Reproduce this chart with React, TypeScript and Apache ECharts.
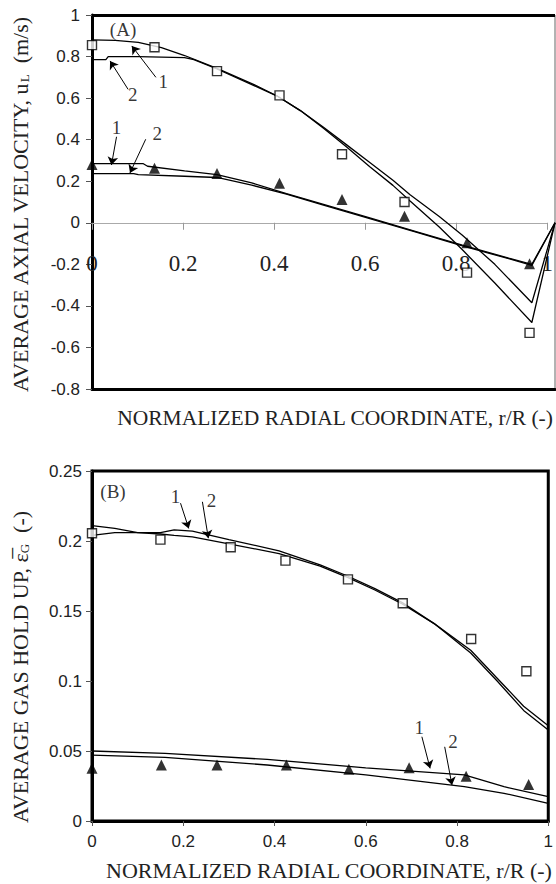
import React, { useEffect, useRef } from "react";
import * as echarts from "echarts";

// ---------- Panel (A): average axial velocity ----------
const xRangeA = [0, 1];
const yRangeA = [-0.8, 1];
const xExpA = [0, 0.135, 0.27, 0.405, 0.54, 0.675, 0.81, 0.945];
const uHighExp = [0.855, 0.845, 0.73, 0.613, 0.33, 0.1, -0.24, -0.53];
const uLowExp = [0.28, 0.262, 0.237, 0.19, 0.112, 0.032, -0.096, -0.197];

const xHigh1 = [0, 0.05, 0.1, 0.15, 0.2, 0.27, 0.35, 0.4, 0.45, 0.5, 0.55, 0.6, 0.65, 0.687, 0.75, 0.8, 0.87, 0.95, 1];
const uHigh1 = [0.88, 0.878, 0.868, 0.843, 0.805, 0.743, 0.665, 0.61, 0.54, 0.455, 0.365, 0.27, 0.18, 0.105, -0.02, -0.13, -0.29, -0.48, 0];
const xHigh2 = [0, 0.03, 0.035, 0.1, 0.2, 0.22, 0.27, 0.35, 0.4, 0.45, 0.5, 0.55, 0.6, 0.65, 0.687, 0.75, 0.8, 0.87, 0.95, 1];
const uHigh2 = [0.785, 0.785, 0.8, 0.8, 0.795, 0.785, 0.74, 0.66, 0.61, 0.54, 0.46, 0.375, 0.29, 0.205, 0.135, 0.03, -0.06, -0.2, -0.385, 0];

const xLow1 = [0, 0.11, 0.12, 0.2, 0.27, 0.345, 0.42, 0.5, 0.6, 0.7, 0.8, 0.9, 0.95, 1];
const uLow1 = [0.285, 0.285, 0.272, 0.25, 0.232, 0.192, 0.14, 0.088, 0.023, -0.042, -0.108, -0.17, -0.2, 0];
const xLow2 = [0, 0.09, 0.1, 0.2, 0.27, 0.345, 0.42, 0.5, 0.6, 0.7, 0.8, 0.9, 0.95, 1];
const uLow2 = [0.237, 0.237, 0.232, 0.224, 0.218, 0.181, 0.138, 0.085, 0.02, -0.045, -0.111, -0.173, -0.205, 0];

// annotation labels and arrows (data coordinates)
const labelsA = [
  { name: "(A)", x: 0.067, y: 0.928 },
  { name: "1", x: 0.154, y: 0.679 },
  { name: "2", x: 0.088, y: 0.618 },
  { name: "1", x: 0.053, y: 0.458 },
  { name: "2", x: 0.141, y: 0.431 },
];
const arrowsA = [
  [0.138, 0.7, 0.086, 0.851],
  [0.078, 0.642, 0.039, 0.779],
  [0.053, 0.414, 0.042, 0.278],
  [0.116, 0.402, 0.082, 0.24],
];

// ---------- Panel (B): average gas hold up ----------
const xSqB = [0, 0.15, 0.304, 0.424, 0.561, 0.681, 0.831, 0.952];
const egHighExp = [0.2055, 0.201, 0.1955, 0.186, 0.1726, 0.1555, 0.13, 0.107];
const xTriB = [0, 0.152, 0.274, 0.426, 0.563, 0.695, 0.82, 0.957];
const egLowExp = [0.0376, 0.04, 0.04, 0.04, 0.037, 0.038, 0.032, 0.026];

const xHighB = [0, 0.05, 0.1, 0.15, 0.18, 0.22, 0.3, 0.41, 0.5, 0.56, 0.62, 0.68, 0.75, 0.83, 0.888, 0.946, 1];
const egHigh1 = [0.211, 0.209, 0.206, 0.206, 0.208, 0.207, 0.201, 0.193, 0.183, 0.175, 0.166, 0.156, 0.141, 0.122, 0.102, 0.082, 0.068];
const egHigh2 = [0.204, 0.206, 0.206, 0.205, 0.204, 0.203, 0.198, 0.191, 0.182, 0.174, 0.165, 0.155, 0.141, 0.12, 0.1, 0.079, 0.065];

const xLowB = [0, 0.16, 0.384, 0.6, 0.816, 0.903, 1];
const egLow1 = [0.05, 0.0483, 0.044, 0.038, 0.033, 0.0245, 0.0174];
const egLow2 = [0.047, 0.0455, 0.04, 0.033, 0.0245, 0.0198, 0.0126];

const labelsB = [
  { name: "(B)", x: 0.046, y: 0.2352 },
  { name: "1", x: 0.183, y: 0.232 },
  { name: "2", x: 0.262, y: 0.229 },
  { name: "1", x: 0.717, y: 0.0669 },
  { name: "2", x: 0.791, y: 0.0566 },
];
const arrowsB = [
  [0.194, 0.227, 0.212, 0.209],
  [0.242, 0.228, 0.255, 0.202],
  [0.723, 0.0602, 0.741, 0.0376],
  [0.773, 0.053, 0.789, 0.0257],
];

const SERIF = "'Liberation Serif', 'Times New Roman', serif";
const SANS = "'Liberation Sans', Arial, sans-serif";

const zip = (xs: number[], ys: number[]) => xs.map((x, i) => [x, ys[i]]);

function modelLine(xs: number[], ys: number[], xi: number, yi: number) {
  return {
    type: "line",
    xAxisIndex: xi,
    yAxisIndex: yi,
    data: zip(xs, ys),
    showSymbol: false,
    symbol: "none",
    lineStyle: { color: "#000", width: 1.3 },
    silent: true,
    z: 2,
  };
}

function expSeries(xs: number[], ys: number[], xi: number, yi: number, square: boolean) {
  return {
    type: "scatter",
    xAxisIndex: xi,
    yAxisIndex: yi,
    data: zip(xs, ys),
    symbol: square ? "rect" : "triangle",
    symbolSize: square ? 9 : 11,
    itemStyle: square
      ? { color: "#fff", borderColor: "#000", borderWidth: 1.4 }
      : { color: "#000" },
    silent: true,
    z: 3,
  };
}

function annotations(labels: { name: string; x: number; y: number }[], arrows: number[][], xi: number, yi: number) {
  return {
    type: "scatter",
    xAxisIndex: xi,
    yAxisIndex: yi,
    data: labels.map((l) => ({ name: l.name, value: [l.x, l.y] })),
    symbol: "circle",
    symbolSize: 1,
    itemStyle: { color: "transparent" },
    label: {
      show: true,
      position: "inside",
      formatter: "{b}",
      fontFamily: SERIF,
      fontSize: 19,
      color: "#000",
    },
    silent: true,
    z: 4,
    markLine: {
      silent: true,
      symbol: ["none", "arrow"],
      symbolSize: 8,
      label: { show: false },
      lineStyle: { color: "#000", width: 1, type: "solid" },
      data: arrows.map((a) => [{ coord: [a[0], a[1]] }, { coord: [a[2], a[3]] }]),
    },
  };
}

// thick top frame line of panel A
function frameTopA() {
  return {
    type: "line",
    xAxisIndex: 0,
    yAxisIndex: 0,
    data: [],
    silent: true,
    markLine: {
      silent: true,
      symbol: ["none", "none"],
      label: { show: false },
      lineStyle: { color: "#000", width: 3, type: "solid" },
      data: [[{ coord: [xRangeA[0], yRangeA[1]] }, { coord: [xRangeA[1], yRangeA[1]] }]],
    },
  };
}

// Panel A geometry: the y = 0 axis sits 5/9 of the way down the plot
const TOP_A = 15;
const H_A = 374;
const H_A_POS = (H_A * yRangeA[1]) / (yRangeA[1] - yRangeA[0]);

export default function App() {
  const ref = useRef<HTMLDivElement>(null);
  useEffect(() => {
    if (!ref.current) return;
    const chart = echarts.init(ref.current, null, { renderer: "svg" });
    const thick = { color: "#000", width: 3 };
    chart.setOption({
      animation: false,
      backgroundColor: "#fff",
      grid: [
        { left: 92, top: TOP_A, width: 463, height: H_A, show: true, borderColor: "#666", borderWidth: 1 },
        { left: 92, top: 471, width: 463, height: 350, show: true, borderColor: "#000", borderWidth: 3 },
        // overlay grid for panel A whose bottom edge is the y = 0 line
        { left: 92, top: TOP_A, width: 463, height: H_A_POS, show: false },
      ],
      xAxis: [
        {
          gridIndex: 0,
          type: "value",
          min: xRangeA[0],
          max: xRangeA[1],
          interval: 0.2,
          position: "bottom",
          axisLine: { show: true, onZero: false, lineStyle: thick },
          axisTick: { show: false },
          axisLabel: { show: false },
          splitLine: { show: false },
        },
        {
          gridIndex: 1,
          type: "value",
          min: 0,
          max: 1,
          interval: 0.2,
          position: "bottom",
          axisLine: { show: true, onZero: false, lineStyle: thick },
          axisTick: { show: true, length: 5, lineStyle: { color: "#555" } },
          axisLabel: { fontFamily: SANS, fontSize: 17, color: "#222", margin: 12 },
          splitLine: { show: false },
        },
        {
          gridIndex: 2,
          type: "value",
          min: xRangeA[0],
          max: xRangeA[1],
          interval: 0.2,
          position: "bottom",
          axisLine: { show: true, onZero: false, lineStyle: { color: "#aaa", width: 1 } },
          axisTick: { show: true, length: 7, lineStyle: { color: "#999" } },
          axisLabel: { fontFamily: SERIF, fontSize: 23, color: "#222", margin: 29 },
          splitLine: { show: false },
          z: 1,
        },
      ],
      yAxis: [
        {
          gridIndex: 0,
          type: "value",
          min: yRangeA[0],
          max: yRangeA[1],
          interval: 0.2,
          position: "left",
          axisLine: { show: true, onZero: false, lineStyle: thick },
          axisTick: { show: true, length: 6, lineStyle: { color: "#555" } },
          axisLabel: { fontFamily: SANS, fontSize: 17, color: "#222", margin: 12 },
          splitLine: { show: false },
        },
        {
          gridIndex: 1,
          type: "value",
          min: 0,
          max: 0.25,
          interval: 0.05,
          position: "left",
          axisLine: { show: true, onZero: false, lineStyle: thick },
          axisTick: { show: true, length: 6, lineStyle: { color: "#555" } },
          axisLabel: { fontFamily: SANS, fontSize: 17, color: "#222", margin: 10 },
          splitLine: { show: false },
        },
        {
          gridIndex: 2,
          type: "value",
          min: 0,
          max: yRangeA[1],
          show: false,
        },
      ],
      graphic: [
        {
          type: "text",
          x: 18,
          y: 205,
          rotation: Math.PI / 2,
          style: {
            text: "{a|AVERAGE AXIAL VELOCITY, u}{s|L}{a|  (m/s)}",
            align: "center",
            verticalAlign: "middle",
            fill: "#222",
            rich: {
              a: { fontFamily: SERIF, fontSize: 22, lineHeight: 26, fill: "#222", verticalAlign: "bottom" },
              s: { fontFamily: SERIF, fontSize: 13, lineHeight: 26, fill: "#222", verticalAlign: "bottom" },
            },
          },
        },
        {
          type: "text",
          x: 335,
          y: 418,
          style: {
            text: "NORMALIZED RADIAL COORDINATE, r/R (-)",
            align: "center",
            verticalAlign: "middle",
            fontFamily: SERIF,
            fontSize: 21.5,
            fill: "#222",
          },
        },
        {
          type: "text",
          x: 18,
          y: 667,
          rotation: Math.PI / 2,
          style: {
            text: "{a|AVERAGE GAS HOLD UP, }{e|\u03b5\u0305}{s|G}{a|  (-)}",
            align: "center",
            verticalAlign: "middle",
            fill: "#222",
            rich: {
              a: { fontFamily: SERIF, fontSize: 22, lineHeight: 26, fill: "#222", verticalAlign: "bottom" },
              e: { fontFamily: SERIF, fontSize: 22, lineHeight: 26, fill: "#222", verticalAlign: "bottom" },
              s: { fontFamily: SERIF, fontSize: 13, lineHeight: 26, fill: "#222", verticalAlign: "bottom" },
            },
          },
        },
        {
          type: "text",
          x: 329,
          y: 870,
          style: {
            text: "NORMALIZED RADIAL COORDINATE, r/R (-)",
            align: "center",
            verticalAlign: "middle",
            fontFamily: SERIF,
            fontSize: 22,
            fill: "#222",
          },
        },
      ],
      series: [
        frameTopA(),
        modelLine(xHigh1, uHigh1, 0, 0),
        modelLine(xHigh2, uHigh2, 0, 0),
        modelLine(xLow1, uLow1, 0, 0),
        modelLine(xLow2, uLow2, 0, 0),
        expSeries(xExpA, uHighExp, 0, 0, true),
        expSeries(xExpA, uLowExp, 0, 0, false),
        annotations(labelsA, arrowsA, 0, 0),
        modelLine(xHighB, egHigh1, 1, 1),
        modelLine(xHighB, egHigh2, 1, 1),
        modelLine(xLowB, egLow1, 1, 1),
        modelLine(xLowB, egLow2, 1, 1),
        expSeries(xSqB, egHighExp, 1, 1, true),
        expSeries(xTriB, egLowExp, 1, 1, false),
        annotations(labelsB, arrowsB, 1, 1),
      ],
    });
    return () => chart.dispose();
  }, []);
  return (
    <div
      ref={ref}
      style={{ position: "absolute", left: 0, top: 0, width: 556, height: 884, background: "#fff" }}
    />
  );
}
